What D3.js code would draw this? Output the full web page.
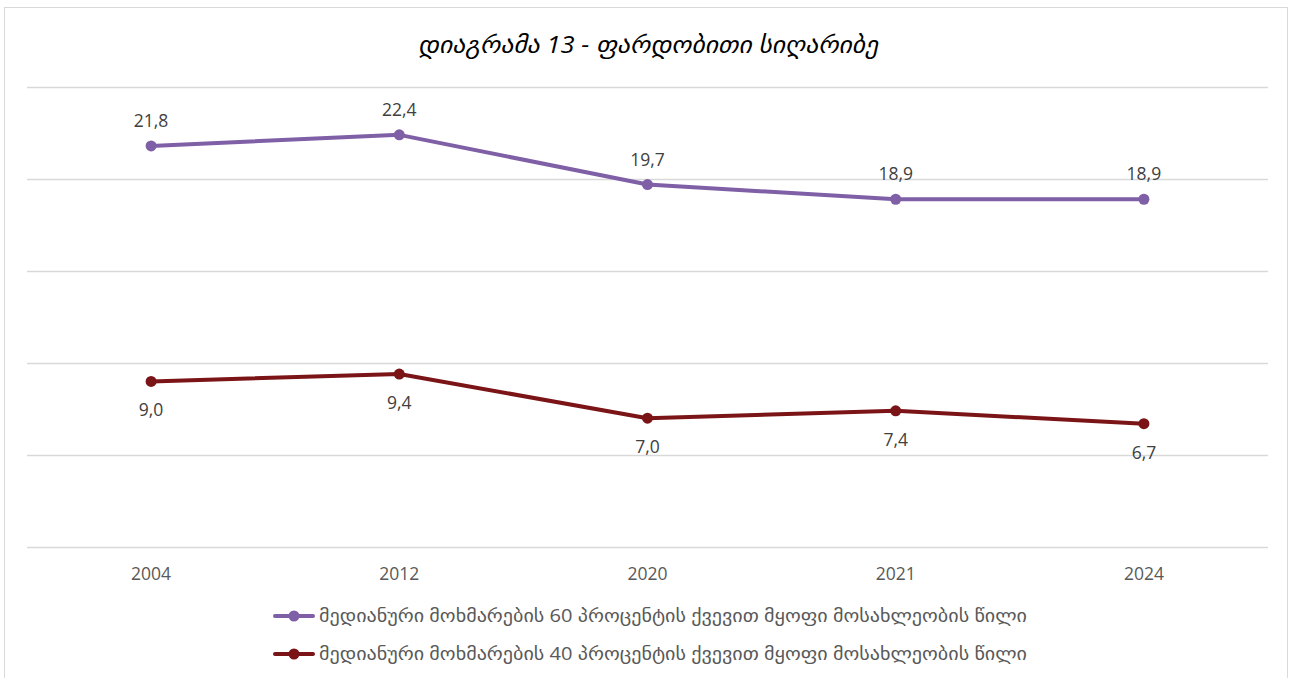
<!DOCTYPE html>
<html><head><meta charset="utf-8">
<script src="https://cdn.jsdelivr.net/npm/d3@7/dist/d3.min.js"></script>
<style>body{margin:0;background:#fff}svg{display:block}</style>
</head><body>
<svg id="c" width="1290" height="678"></svg>
<script>
const categories = ["2004","2012","2020","2021","2024"];
const series60 = [21.8, 22.4, 19.7, 18.9, 18.9];
const series40 = [9.0, 9.4, 7.0, 7.4, 6.7];
const seriesNames = [
  "მედიანური მოხმარების 60 პროცენტის ქვევით მყოფი მოსახლეობის წილი",
  "მედიანური მოხმარების 40 პროცენტის ქვევით მყოფი მოსახლეობის წილი"
];
const yTicks = [0, 5, 10, 15, 20, 25];
const title = "დიაგრამა 13 - ფარდობითი სიღარიბე";

const svg = d3.select("#c");
const font = "'Open Sans','Noto Sans','DejaVu Sans',sans-serif";

svg.append("rect").attr("x",4.5).attr("y",7.5).attr("width",1283).attr("height",690)
  .attr("fill","#fff").attr("stroke","#d9d9d9").attr("stroke-width",1);

svg.append("text").attr("x",648).attr("y",53).attr("text-anchor","middle")
  .attr("font-family",font).attr("font-style","italic").attr("font-size",23)
  .attr("textLength",460).attr("lengthAdjust","spacingAndGlyphs")
  .attr("fill","#000").text(title);

const x = d3.scaleBand().domain(categories).range([27,1268]);
const y = d3.scaleLinear().domain([0,25]).range([547,87]);

svg.append("g").selectAll("line").data(yTicks).join("line")
  .attr("x1",27).attr("x2",1268).attr("y1",d=>Math.round(y(d))+0.5).attr("y2",d=>Math.round(y(d))+0.5)
  .attr("stroke","#d9d9d9").attr("stroke-width",1.3);

const xa = svg.append("g").attr("transform","translate(0,547)")
  .call(d3.axisBottom(x).tickSize(0).tickPadding(21));
xa.select(".domain").remove();
xa.selectAll("text").attr("font-family",font).attr("font-size",17.5).attr("fill","#595959");

const cx = d => x(d) + x.bandwidth()/2;
const defs = [
  {vals:series60, color:"#7f5fa6", above:true},
  {vals:series40, color:"#7b1416", above:false}
];
const line = d3.line().x((d,i)=>cx(categories[i])).y(d=>y(d));
defs.forEach(s=>{
  svg.append("path").datum(s.vals).attr("d",line).attr("fill","none")
    .attr("stroke",s.color).attr("stroke-width",4).attr("stroke-linejoin","round").attr("stroke-linecap","round");
  svg.append("g").selectAll("circle").data(s.vals).join("circle")
    .attr("cx",(d,i)=>cx(categories[i])).attr("cy",d=>y(d)).attr("r",5.5).attr("fill",s.color);
  svg.append("g").selectAll("text").data(s.vals).join("text")
    .attr("x",(d,i)=>cx(categories[i])).attr("y",d=>s.above ? y(d)-19 : y(d)+35)
    .attr("text-anchor","middle").attr("font-family",font).attr("font-size",17.5).attr("fill","#404040")
    .text(d=>d.toFixed(1).replace(".",","));
});

const lg = svg.append("g");
seriesNames.forEach((n,i)=>{
  const yy = 616 + i*38;
  lg.append("line").attr("x1",275).attr("x2",313).attr("y1",yy).attr("y2",yy)
    .attr("stroke",defs[i].color).attr("stroke-width",4).attr("stroke-linecap","round");
  lg.append("circle").attr("cx",294).attr("cy",yy).attr("r",5.5).attr("fill",defs[i].color);
  lg.append("text").attr("x",319).attr("y",yy+6).attr("font-family",font).attr("font-size",18.5)
    .attr("textLength",708).attr("lengthAdjust","spacingAndGlyphs")
    .attr("fill","#595959").text(n);
});
</script>
</body></html>
